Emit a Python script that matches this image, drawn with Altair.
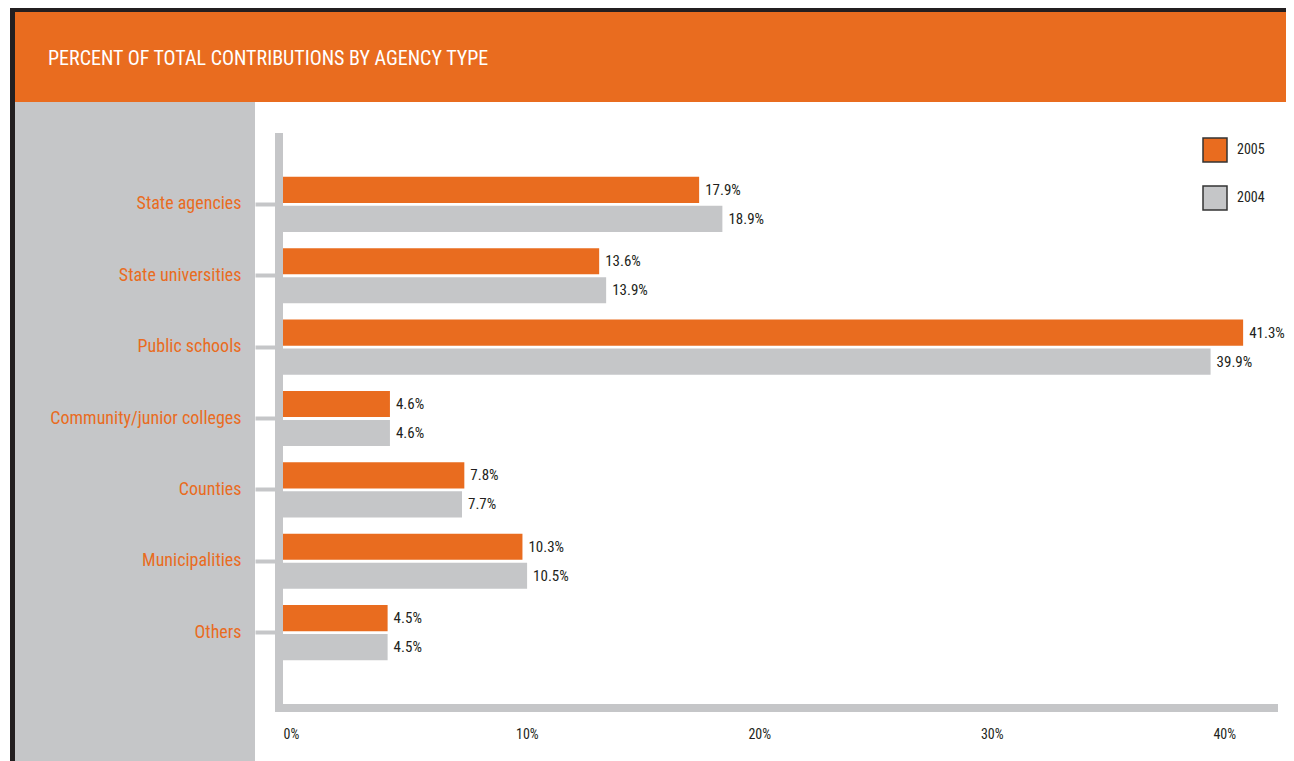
import altair as alt
import pandas as pd

categories = ["State agencies", "State universities", "Public schools",
              "Community/junior colleges", "Counties", "Municipalities", "Others"]
values_2005 = [17.9, 13.6, 41.3, 4.6, 7.8, 10.3, 4.5]
values_2004 = [18.9, 13.9, 39.9, 4.6, 7.7, 10.5, 4.5]
years = ["2005", "2004"]
x_ticks = [0, 10, 20, 30, 40]
title_text = "PERCENT OF TOTAL CONTRIBUTIONS BY AGENCY TYPE"

ORANGE = "#E96C1F"
GREY = "#C5C6C8"
DARK = "#231F20"
FONT = "Roboto Condensed"

rows = []
for c, a, b in zip(categories, values_2005, values_2004):
    rows.append({"category": c, "year": years[0], "value": a})
    rows.append({"category": c, "year": years[1], "value": b})
df = pd.DataFrame(rows)

W, H = 995, 571
RIGHT = 8
one = alt.Data(values=[{"k": 1}])


def deco(x, x2, y, y2, color):
    return alt.Chart(one).mark_rect(color=color).encode(
        x=alt.value(x), x2=alt.value(x2), y=alt.value(y), y2=alt.value(y2))


border_left = deco(-273, -268, -125, 628, DARK)
border_top = deco(-273, W + RIGHT, -125, -121, DARK)
header = deco(-268, W + RIGHT, -121, -31, ORANGE)
panel = deco(-268, -28, -31, 628, GREY)
frame_v = deco(-8, 0, 0, 579, GREY)
frame_h = deco(-8, W, 571, 579, GREY)

title = alt.Chart(one).mark_text(
    align="left", baseline="middle", color="white", font=FONT, fontSize=20
).encode(x=alt.value(-235), y=alt.value(-74), text=alt.value(title_text))

y_enc = alt.Y("category:N", sort=categories, title=None,
              scale=alt.Scale(paddingInner=0, paddingOuter=0.5),
              axis=alt.Axis(offset=8, tickSize=20, tickWidth=4, tickColor=GREY,
                            domain=False, labelPadding=14, labelColor=ORANGE,
                            labelFont=FONT, labelFontSize=18, labelLimit=400, zindex=2))
yoff = alt.YOffset("year:N", sort=years,
                   scale=alt.Scale(paddingInner=0.1, paddingOuter=0.28))
x_enc = alt.X("value:Q", title=None,
              scale=alt.Scale(domain=[0, 42.8], nice=False, zero=True),
              axis=alt.Axis(values=x_ticks, labelExpr="datum.value + '%'",
                            ticks=False, domain=False, grid=False,
                            labelAlign="left", labelPadding=23,
                            labelColor=DARK, labelFont=FONT, labelFontSize=14, zindex=2))

bars = alt.Chart(df).mark_bar().encode(
    x=x_enc, y=y_enc, yOffset=yoff,
    color=alt.Color("year:N", sort=years,
                    scale=alt.Scale(domain=years, range=[ORANGE, GREY]),
                    legend=alt.Legend(title=None, orient="none", legendX=919, legendY=4,
                                      symbolType="square", symbolSize=576,
                                      symbolStrokeColor="#333", symbolStrokeWidth=1.5,
                                      symbolOpacity=1, rowPadding=18, labelOffset=9,
                                      labelFont=FONT, labelFontSize=14, labelColor=DARK)),
)

labels = alt.Chart(df).transform_calculate(
    lbl="format(datum.value, '.1f') + '%'"
).mark_text(align="left", baseline="middle", dx=6, color=DARK, font=FONT, fontSize=15).encode(
    x="value:Q", y=alt.Y("category:N", sort=categories), yOffset=alt.YOffset("year:N", sort=years),
    text="lbl:N")

chart = alt.layer(
    border_left, border_top, header, panel, frame_v, frame_h, title, bars, labels
).properties(
    width=W, height=H,
    autosize=alt.AutoSizeParams(type="none"),
    padding={"left": 275, "top": 125, "right": RIGHT, "bottom": 57},
    background="white",
).configure_view(strokeWidth=0)

chart.save("out.html", embed_options={"renderer": "svg", "actions": False})
